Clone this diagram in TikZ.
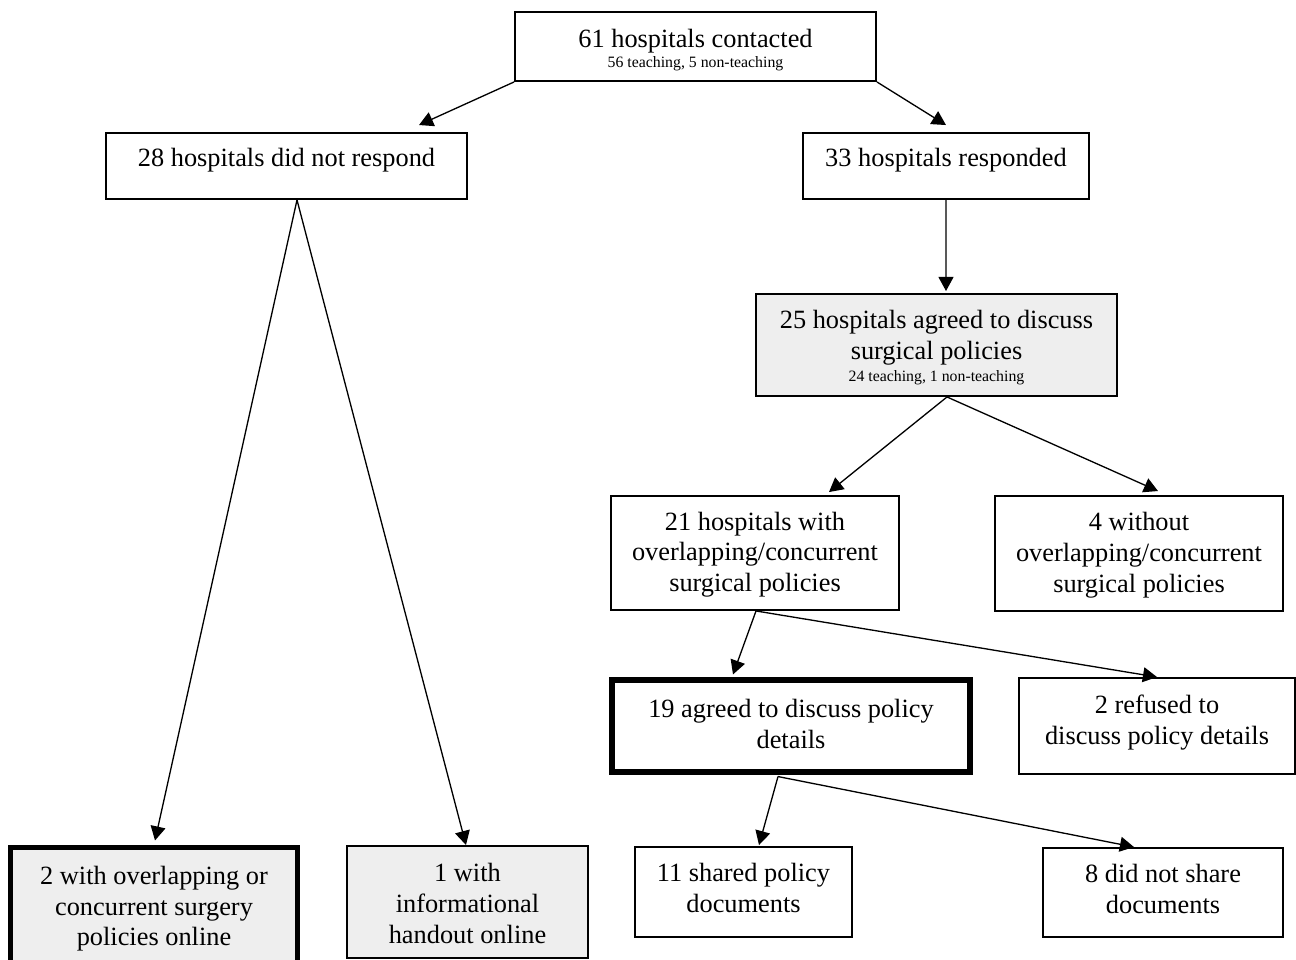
\documentclass[tikz,border=0pt]{standalone}
\usepackage{fontspec}
\setmainfont{Liberation Serif}
\usetikzlibrary{arrows.meta,calc}
\newcommand\liftlines[2]{\raisebox{#1}[\height][\depth]{\begin{tabular}{@{}c@{}}#2\end{tabular}}}
\newcommand\smalltext{\fontsize{9}{10}\selectfont}
\definecolor{boxgray}{RGB}{238,238,238}
\begin{document}
\begin{tikzpicture}[x=0.02cm,y=-0.02cm,
  box/.style={draw, line width=1.1pt, inner sep=0pt, align=center,
    font=\fontsize{15}{17.6}\selectfont},
  sz/.style 2 args={minimum width=#1*0.02cm, minimum height=#2*0.02cm},
  hl/.style={line width=2.9pt},
  shaded/.style={fill=boxgray},
  arr/.style={line width=0.75pt, -{Triangle[length=8pt,width=8.5pt]}},
]
\useasboundingbox (0,0) rectangle (1296,960);
\clip (0,0) rectangle (1296,960);
\fill[white] (0,0) rectangle (1296,960);

\node[box, sz={361}{69}] (top) at (695.5,46.5)
  {\liftlines{-2.8pt}{61 hospitals contacted\\[-6.2pt]{\smalltext 56 teaching, 5 non-teaching}}};
\node[box, sz={361}{66}] (dnr) at (286.5,166) {\liftlines{3pt}{28 hospitals did not respond}};
\node[box, sz={286}{66}] (resp) at (946,166) {\liftlines{3pt}{33 hospitals responded}};
\node[box, shaded, sz={361}{102}] (ag25) at (936.5,345)
  {\liftlines{-2.2pt}{25 hospitals agreed to discuss\\surgical policies\\[-5.2pt]{\smalltext 24 teaching, 1 non-teaching}}};
\node[box, sz={288}{114}] (w21) at (755,553)
  {\liftlines{-1pt}{21 hospitals with\\overlapping/concurrent\\surgical policies}};
\node[box, sz={288}{115}] (wo4) at (1139,553.5)
  {\liftlines{-1pt}{4 without\\overlapping/concurrent\\surgical policies}};
\node[box, hl, sz={358}{92}] (ag19) at (791,726)
  {\liftlines{-0.2pt}{19 agreed to discuss policy\\details}};
\node[box, sz={276}{96}] (ref2) at (1157,726)
  {\liftlines{1.7pt}{2 refused to\\discuss policy details}};
\node[box, hl, shaded, sz={287}{117}] (on2) at (154,906)
  {\liftlines{-1.6pt}{2 with overlapping or\\concurrent surgery\\policies online}};
\node[box, shaded, sz={241}{112}] (ho1) at (467.5,902)
  {\liftlines{-2.3pt}{1 with\\informational\\handout online}};
\node[box, sz={217}{90}] (sh11) at (743.5,892)
  {\liftlines{0.8pt}{11 shared policy\\documents}};
\node[box, sz={240}{89}] (ns8) at (1163,892.5)
  {\liftlines{0.6pt}{8 did not share\\documents}};

\draw[arr] (top.south west) -- ($(dnr.north west)+(314,-7)$);
\draw[arr] (top.south east) -- ($(resp.north)+(0,-7)$);
\draw[arr] ($(dnr.south)+(10.5,0)$) -- ($(on2.north)+(1,-4.5)$);
\draw[arr] ($(dnr.south)+(10.5,0)$) -- ($(ho1.north)+(-1.5,0)$);
\draw[arr] (resp.south) -- ($(ag25.north)+(9.5,-2)$);
\draw[arr] ($(ag25.south)+(10.5,0)$) -- ($(w21.north)+(74,-3)$);
\draw[arr] ($(ag25.south)+(10.5,0)$) -- ($(wo4.north)+(19,-4)$);
\draw[arr] ($(w21.south)+(1,0)$) -- ($(ag19.north)+(-58,-3)$);
\draw[arr] ($(w21.south)+(1,0)$) -- (ref2.north);
\draw[arr] ($(ag19.south)+(-13,2)$) -- ($(sh11.north)+(15.5,-1)$);
\draw[arr] ($(ag19.south)+(-13,2)$) -- ($(ns8.north)+(-29,0)$);
\end{tikzpicture}
\end{document}
